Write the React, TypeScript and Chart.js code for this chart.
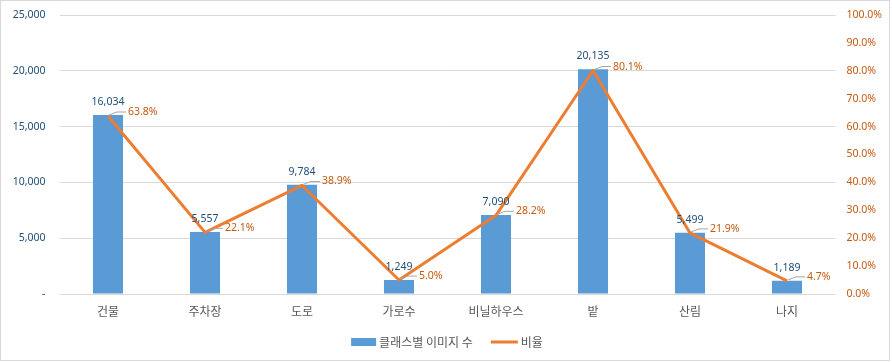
import React, { useEffect, useRef } from "react";
import { Chart, registerables } from "chart.js";

Chart.register(...registerables);

const categories = ["건물", "주차장", "도로", "가로수", "비닐하우스", "밭", "산림", "나지"];
const imageCounts = [16034, 5557, 9784, 1249, 7090, 20135, 5499, 1189];
const ratios = [63.8, 22.1, 38.9, 5.0, 28.2, 80.1, 21.9, 4.7];
const barSeriesName = "클래스별 이미지 수";
const lineSeriesName = "비율";

const NUM_FONT = "'Noto Sans', 'Noto Sans CJK KR', sans-serif";
const KR_FONT = "'Noto Sans CJK KR', 'Noto Sans', sans-serif";

const BAR_COLOR = "#5B9BD5";
const LINE_COLOR = "#ED7D31";
const BLUE_TEXT = "#1F4E79";
const ORANGE_TEXT = "#C55A11";
const GREY_TEXT = "#595959";
const GRID = "#D9D9D9";

const fmt = (v: number) => v.toLocaleString("en-US");

const labelsPlugin = {
  id: "customLabels",
  afterDatasetsDraw(chart: any) {
    const ctx = chart.ctx;
    ctx.save();
    const barMeta = chart.getDatasetMeta(0);
    ctx.font = `10.5px ${NUM_FONT}`;
    ctx.fillStyle = BLUE_TEXT;
    ctx.textAlign = "center";
    ctx.textBaseline = "middle";
    barMeta.data.forEach((el: any, i: number) => {
      ctx.fillText(fmt(imageCounts[i]), el.x, el.y - 13);
    });
    const lineMeta = chart.getDatasetMeta(1);
    lineMeta.data.forEach((el: any, i: number) => {
      const lx = el.x + 20;
      const ly = el.y - 4;
      ctx.strokeStyle = "#A6A6A6";
      ctx.lineWidth = 1;
      ctx.beginPath();
      ctx.moveTo(el.x + 1, el.y - 1);
      ctx.lineTo(el.x + 9, ly);
      ctx.lineTo(lx - 2, ly);
      ctx.stroke();
      ctx.fillStyle = ORANGE_TEXT;
      ctx.textAlign = "left";
      ctx.fillText(ratios[i].toFixed(1) + "%", lx, ly);
    });
    ctx.restore();
  },
  afterDraw(chart: any) {
    const ctx = chart.ctx;
    ctx.save();
    ctx.font = `12px ${KR_FONT}`;
    ctx.textBaseline = "middle";
    ctx.textAlign = "left";
    const t1 = ctx.measureText(barSeriesName).width;
    const t2 = ctx.measureText(lineSeriesName).width;
    const total = 25 + 3 + t1 + 18 + 27 + 3 + t2;
    const cy = 342;
    let x = 447 - total / 2;
    ctx.fillStyle = BAR_COLOR;
    ctx.fillRect(x, cy - 4, 25, 8);
    x += 28;
    ctx.fillStyle = GREY_TEXT;
    ctx.fillText(barSeriesName, x, cy);
    x += t1 + 18;
    ctx.strokeStyle = LINE_COLOR;
    ctx.lineWidth = 3;
    ctx.beginPath();
    ctx.moveTo(x, cy);
    ctx.lineTo(x + 27, cy);
    ctx.stroke();
    x += 30;
    ctx.fillStyle = GREY_TEXT;
    ctx.fillText(lineSeriesName, x, cy);
    ctx.strokeStyle = GRID;
    ctx.lineWidth = 1;
    ctx.strokeRect(0.5, 0.5, 889, 360);
    ctx.restore();
  },
};

export default function App() {
  const canvasRef = useRef<HTMLCanvasElement | null>(null);

  useEffect(() => {
    document.body.style.margin = "0";
    const canvas = canvasRef.current;
    if (!canvas) return;
    const chart = new Chart(canvas, {
      type: "bar",
      data: {
        labels: categories,
        datasets: [
          {
            type: "bar",
            label: barSeriesName,
            data: imageCounts,
            backgroundColor: BAR_COLOR,
            borderWidth: 0,
            barPercentage: 0.31,
            categoryPercentage: 1,
            yAxisID: "y",
            order: 1,
          },
          {
            type: "line",
            label: lineSeriesName,
            data: ratios,
            borderColor: LINE_COLOR,
            backgroundColor: LINE_COLOR,
            borderWidth: 3,
            pointRadius: 0,
            borderJoinStyle: "round",
            tension: 0,
            yAxisID: "y1",
            order: 0,
          } as any,
        ],
      },
      options: {
        responsive: false,
        animation: false,
        layout: { padding: { top: 15, bottom: 38, left: 0, right: 0 } },
        plugins: {
          legend: { display: false },
          tooltip: { enabled: false },
        },
        scales: {
          x: {
            offset: true,
            grid: { display: false, drawTicks: false },
            border: { display: false },
            ticks: {
              color: GREY_TEXT,
              font: { family: KR_FONT, size: 12 },
              padding: 10,
            },
            afterFit: (s: any) => {
              s.height = 30;
            },
          },
          y: {
            position: "left",
            min: 0,
            max: 25000,
            ticks: {
              stepSize: 5000,
              padding: 14,
              color: BLUE_TEXT,
              font: { family: NUM_FONT, size: 10.5 },
              callback: (v: any) => (Number(v) === 0 ? "-" : fmt(Number(v))),
            },
            grid: { color: GRID, drawTicks: false, lineWidth: 1 },
            border: { display: false },
            afterFit: (s: any) => {
              s.width = 59.5;
              s.paddingTop = 6;
              s.paddingBottom = 6;
            },
          },
          y1: {
            position: "right",
            min: 0,
            max: 100,
            ticks: {
              stepSize: 10,
              padding: 11,
              color: ORANGE_TEXT,
              font: { family: NUM_FONT, size: 10.5 },
              callback: (v: any) => Number(v).toFixed(1) + "%",
            },
            grid: { display: false, drawTicks: false },
            border: { display: false },
            afterFit: (s: any) => {
              s.width = 56.5;
              s.paddingTop = 6;
              s.paddingBottom = 6;
            },
          },
        },
      } as any,
      plugins: [labelsPlugin],
    });
    return () => chart.destroy();
  }, []);

  return (
    <div style={{ width: 892, height: 362 }}>
      <canvas ref={canvasRef} width={892} height={362} />
    </div>
  );
}
